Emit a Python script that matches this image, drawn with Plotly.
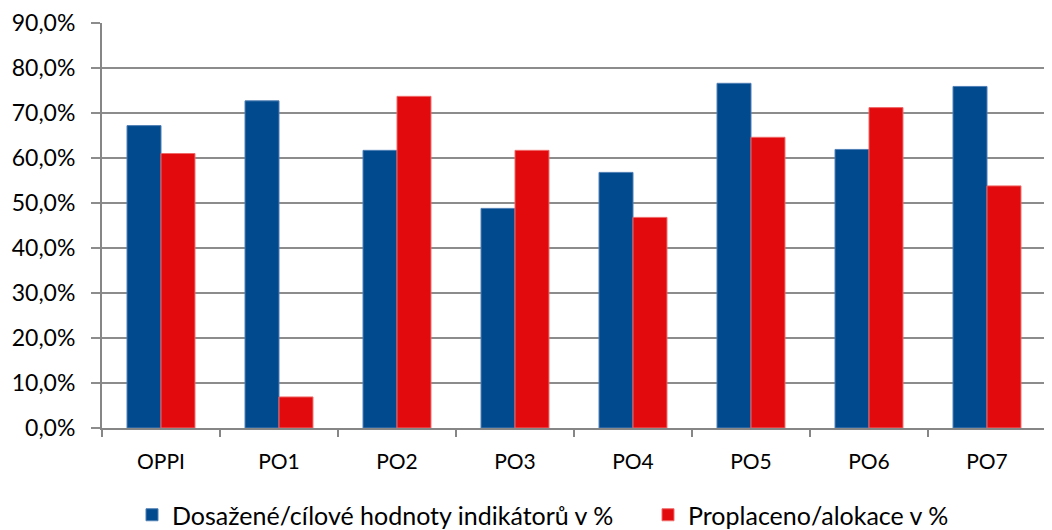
import plotly.graph_objects as go

categories = ["OPPI", "PO1", "PO2", "PO3", "PO4", "PO5", "PO6", "PO7"]
dosazene = [67.2, 72.7, 61.7, 48.8, 56.8, 76.6, 61.9, 75.9]
proplaceno = [61.0, 6.9, 73.7, 61.7, 46.8, 64.6, 71.2, 53.8]
series_names = ["Dosažené/cílové hodnoty indikátorů v %", "Proplaceno/alokace v %"]
y_ticks = [0, 10, 20, 30, 40, 50, 60, 70, 80, 90]
y_tick_labels = [f"{v:.1f}%".replace(".", ",") for v in y_ticks]

FONT = "Lato"

fig = go.Figure()
fig.add_trace(go.Bar(
    x=categories, y=dosazene, name=series_names[0], legend="legend",
    marker=dict(color="#004A8D", line=dict(color="#4F7FB5", width=1)),
))
fig.add_trace(go.Bar(
    x=categories, y=proplaceno, name=series_names[1], legend="legend2",
    marker=dict(color="#E30A0D", line=dict(color="#F06A6A", width=1)),
))

# page body has an 8px default margin: the figure is sized/offset to compensate
W, H = 1044, 522
leg_font = dict(family=FONT, size=25, color="#000000")

fig.update_layout(
    width=W, height=H,
    margin=dict(l=94, r=6, t=15, b=102, autoexpand=False),
    paper_bgcolor="white", plot_bgcolor="white",
    barmode="group", bargap=0.424, bargroupgap=0,
    font=dict(family=FONT, size=21, color="#000000"),
    showlegend=True,
    legend=dict(orientation="h", x=124 / W, xanchor="left", xref="container",
                y=15 / H, yref="container", yanchor="middle",
                font=leg_font, itemwidth=30),
    legend2=dict(orientation="h", x=640 / W, xanchor="left", xref="container",
                 y=15 / H, yref="container", yanchor="middle",
                 font=leg_font, itemwidth=30),
    xaxis=dict(
        type="category", showgrid=False, showline=True, linecolor="#868686", linewidth=2,
        ticks="outside", tickson="boundaries", ticklen=7, tickcolor="#868686", tickwidth=2,
        tickfont=dict(family=FONT, size=21), ticklabelstandoff=14, automargin=False,
    ),
    yaxis=dict(
        range=[0, 90], tickvals=y_ticks, ticktext=y_tick_labels,
        showgrid=True, gridcolor="#8C8C8C", gridwidth=2,
        showline=True, linecolor="#868686", linewidth=2,
        ticks="outside", ticklen=9, tickcolor="#8C8C8C", tickwidth=2,
        tickfont=dict(family=FONT, size=23), zeroline=False,
        ticklabelstandoff=11, automargin=False,
    ),
)

fig.write_html("out.html")
